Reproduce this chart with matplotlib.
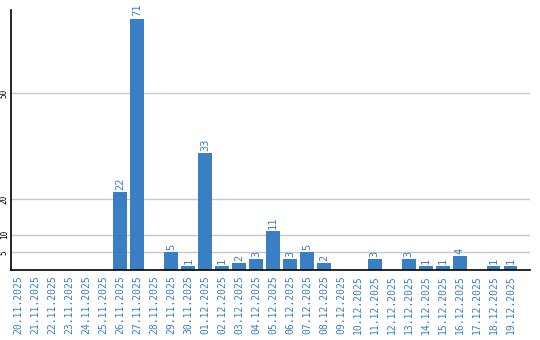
import matplotlib
matplotlib.use("Agg")
import matplotlib.pyplot as plt

dates = ["20.11.2025", "21.11.2025", "22.11.2025", "23.11.2025", "24.11.2025",
         "25.11.2025", "26.11.2025", "27.11.2025", "28.11.2025", "29.11.2025",
         "30.11.2025", "01.12.2025", "02.12.2025", "03.12.2025", "04.12.2025",
         "05.12.2025", "06.12.2025", "07.12.2025", "08.12.2025", "09.12.2025",
         "10.12.2025", "11.12.2025", "12.12.2025", "13.12.2025", "14.12.2025",
         "15.12.2025", "16.12.2025", "17.12.2025", "18.12.2025", "19.12.2025"]
values = [0, 0, 0, 0, 0, 0, 22, 71, 0, 5, 1, 33, 1, 2, 3, 11, 3, 5, 2, 0,
          0, 3, 0, 3, 1, 1, 4, 0, 1, 1]
yticks = [5, 10, 20, 50]

blue = "#3a7ec4"
fig = plt.figure(figsize=(5.4, 3.4), dpi=100)
ax = fig.add_axes([11/540, 70/340, 519/540, 260/340])
x = list(range(len(dates)))
ax.bar(x, values, width=0.82, color=blue, zorder=3)
for xi, v in zip(x, values):
    if v > 0:
        ax.text(xi, v + 0.6, str(v), rotation=90, ha="center", va="bottom",
                color=blue, fontsize=7.5, family="DejaVu Sans Mono")
ax.set_xlim(-0.45, 30.15)
ax.set_ylim(0, 73.4)
ax.set_yticks(yticks)
ax.set_yticklabels([str(t) for t in yticks], rotation=90, va="center",
                   fontsize=5.5, family="DejaVu Sans Mono")
ax.set_xticks(x)
ax.set_xticklabels(dates, rotation=90, color=blue, fontsize=7,
                   family="DejaVu Sans Mono")
ax.tick_params(axis="x", length=0, pad=4)
ax.tick_params(axis="y", length=0, pad=1.5)
ax.grid(axis="y", color="#c8c8c8", linewidth=1, zorder=0)
for s in ["top", "right"]:
    ax.spines[s].set_visible(False)
for s in ["left", "bottom"]:
    ax.spines[s].set_linewidth(1.2)
    ax.spines[s].set_color("black")
    ax.spines[s].set_zorder(4)
fig.savefig("out.png", dpi=100)
